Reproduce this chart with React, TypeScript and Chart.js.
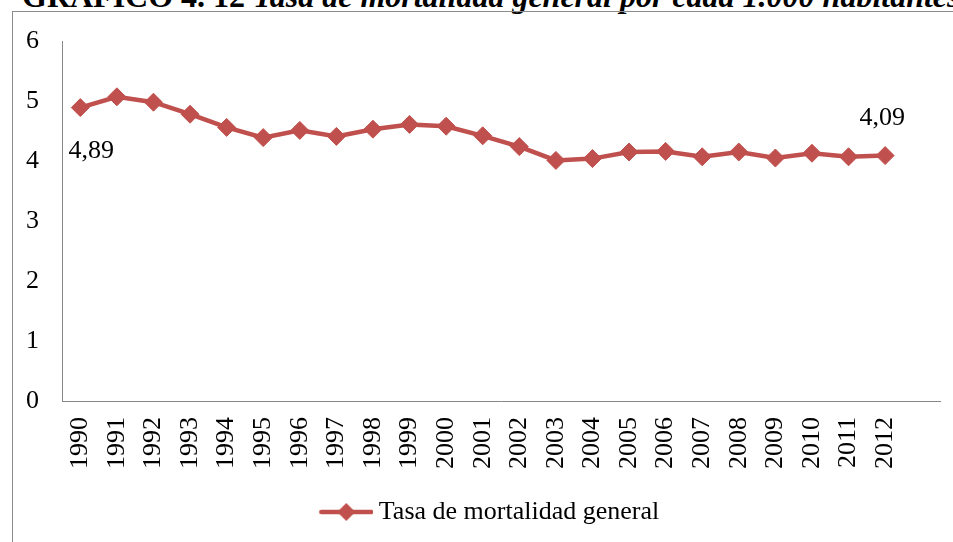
import React, { useEffect, useRef } from "react";
import { Chart, registerables } from "chart.js";

Chart.register(...registerables);

const years = [
  "1990", "1991", "1992", "1993", "1994", "1995", "1996", "1997", "1998", "1999",
  "2000", "2001", "2002", "2003", "2004", "2005", "2006", "2007", "2008", "2009",
  "2010", "2011", "2012", "",
];
const tasa = [
  4.89, 5.07, 4.98, 4.78, 4.56, 4.39, 4.51, 4.41, 4.53, 4.61,
  4.58, 4.42, 4.24, 4.01, 4.04, 4.15, 4.16, 4.07, 4.15, 4.05,
  4.13, 4.07, 4.09, null,
];
const yMin = 0;
const yMax = 6;
const yStep = 1;
const seriesName = "Tasa de mortalidad general";
const labeledPoints = [0, 22];
const titleNumber = "GRÁFICO 4. 12";
const titleText = "Tasa de mortalidad general por cada 1.000 habitantes";

const RED = "#C0504D";
const AXIS = "#868686";
const FONT = "'Times New Roman', 'Liberation Serif', serif";

const labelOffsets: Record<number, [number, number]> = {
  0: [11, 44],
  22: [-3, -37],
};

function fmt(v: number) {
  return v.toFixed(2).replace(".", ",");
}

export default function App() {
  const ref = useRef<HTMLCanvasElement | null>(null);

  useEffect(() => {
    if (!ref.current) return;

    // legend icon: line with a diamond, drawn right-shifted inside an 80px canvas
    const icon = document.createElement("canvas");
    icon.width = 80;
    icon.height = 22;
    const g = icon.getContext("2d")!;
    g.strokeStyle = RED;
    g.lineWidth = 4.5;
    g.lineCap = "round";
    g.beginPath();
    g.moveTo(28, 11);
    g.lineTo(78, 11);
    g.stroke();
    g.fillStyle = RED;
    g.beginPath();
    g.moveTo(53, 2);
    g.lineTo(62, 11);
    g.lineTo(53, 20);
    g.lineTo(44, 11);
    g.closePath();
    g.fill();

    const labelPlugin = {
      id: "pointLabels",
      afterDatasetsDraw(chart: any) {
        const meta = chart.getDatasetMeta(0);
        const ctx = chart.ctx;
        ctx.save();
        ctx.font = `26px ${FONT}`;
        ctx.fillStyle = "#000";
        ctx.textAlign = "center";
        ctx.textBaseline = "middle";
        labeledPoints.forEach((i) => {
          const p = meta.data[i];
          const v = tasa[i];
          if (!p || v == null) return;
          const [dx, dy] = labelOffsets[i] || [0, -30];
          ctx.fillText(fmt(v), p.x + dx, p.y + dy);
        });
        ctx.restore();
      },
    };

    const chart = new Chart(ref.current, {
      type: "line",
      data: {
        labels: years,
        datasets: [
          {
            label: seriesName,
            data: tasa,
            borderColor: RED,
            backgroundColor: RED,
            borderWidth: 4.5,
            pointStyle: "rectRot",
            pointRadius: 9,
            pointBorderWidth: 1,
            pointBackgroundColor: RED,
            pointBorderColor: RED,
            tension: 0,
            spanGaps: false,
          },
        ],
      },
      options: {
        responsive: false,
        animation: false,
        devicePixelRatio: 1,
        events: [],
        layout: { padding: { left: 20, right: 30, top: 41, bottom: 7 } },
        scales: {
          x: {
            type: "category",
            offset: true,
            grid: { display: false, drawTicks: false },
            border: { display: true, color: AXIS, width: 1 },
            ticks: {
              autoSkip: false,
              minRotation: 90,
              maxRotation: 90,
              padding: 16,
              color: "#000",
              font: { size: 26, family: FONT },
            },
            afterFit: (s: any) => {
              s.height = 88;
            },
          },
          y: {
            min: yMin,
            max: yMax,
            grid: { display: false, drawTicks: false },
            border: { display: true, color: AXIS, width: 1 },
            ticks: {
              stepSize: yStep,
              padding: 23,
              color: "#000",
              font: { size: 26, family: FONT },
            },
            afterFit: (s: any) => {
              s.width = 42;
            },
          },
        },
        plugins: {
          legend: {
            position: "bottom",
            labels: {
              usePointStyle: true,
              pointStyleWidth: 65,
              padding: 10,
              color: "#000",
              font: { size: 26, family: FONT },
              generateLabels: () => [
                {
                  text: seriesName,
                  pointStyle: icon as any,
                  fillStyle: RED,
                  strokeStyle: RED,
                  lineWidth: 0,
                  hidden: false,
                  datasetIndex: 0,
                  fontColor: "#000",
                } as any,
              ],
            },
          },
          tooltip: { enabled: false },
          title: { display: false },
        },
      },
      plugins: [labelPlugin],
    });

    return () => chart.destroy();
  }, []);

  return (
    <div
      style={{
        position: "fixed",
        left: 0,
        top: 0,
        width: 953,
        height: 542,
        overflow: "hidden",
        background: "#fff",
      }}
    >
      <div
        style={{
          position: "absolute",
          left: 22,
          top: -20,
          whiteSpace: "nowrap",
          fontFamily: FONT,
          fontWeight: "bold",
          fontSize: 32,
          lineHeight: "32px",
          color: "#000",
        }}
      >
        {titleNumber} <i>{titleText}</i>
      </div>
      <div
        style={{
          position: "absolute",
          left: 12,
          top: 11,
          width: 1200,
          height: 800,
          borderLeft: "1px solid #8c8c8c",
          borderTop: "1px solid #8c8c8c",
        }}
      />
      <canvas
        ref={ref}
        width={970}
        height={542}
        style={{ position: "absolute", left: 0, top: 0, width: 970, height: 542 }}
      />
    </div>
  );
}
